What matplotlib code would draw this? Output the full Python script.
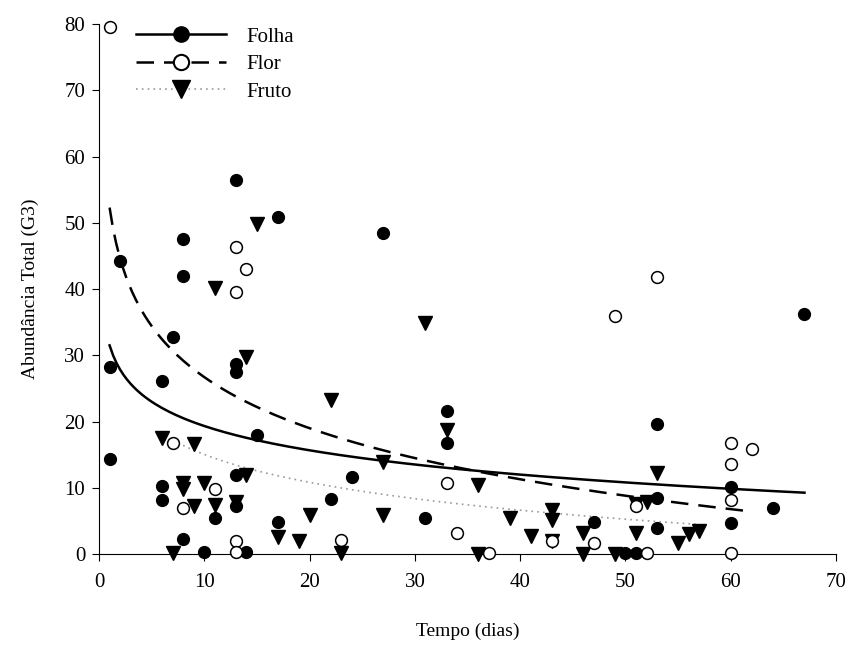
import numpy as np
import matplotlib.pyplot as plt
from matplotlib.lines import Line2D

plt.rcParams['font.family'] = ['Liberation Serif', 'DejaVu Serif']

# ---- data ----
folha_x = [1, 1, 2, 6, 6, 6, 7, 8, 8, 8, 10, 11, 13, 13, 13, 13, 13, 14, 15, 17, 17,
           22, 24, 27, 31, 33, 33, 47, 50, 51, 53, 53, 53, 60, 60, 64, 67]
folha_y = [28.3, 14.4, 44.2, 26.1, 10.2, 8.1, 32.7, 47.6, 42.0, 2.2, 0.3, 5.4, 56.4, 28.7,
           27.5, 11.9, 7.3, 0.3, 18.0, 50.9, 4.8, 8.3, 11.7, 48.5, 5.5, 21.6, 16.8, 4.9,
           0.2, 0.2, 19.7, 8.5, 4.0, 10.1, 4.7, 7.0, 36.2]

flor_x = [1, 7, 8, 11, 13, 13, 13, 13, 14, 23, 33, 34, 37, 43, 47, 49, 51, 52, 53,
          60, 60, 60, 60, 62]
flor_y = [79.5, 16.8, 6.9, 9.8, 46.3, 39.5, 2.0, 0.3, 43.0, 2.1, 10.7, 3.1, 0.2, 2.0,
          1.7, 35.9, 7.3, 0.2, 41.8, 16.8, 13.6, 8.2, 0.2, 15.8]

fruto_x = [6, 7, 8, 8, 9, 9, 10, 11, 11, 13, 14, 14, 15, 17, 19, 20, 22, 23, 27, 27,
           31, 33, 36, 36, 39, 41, 43, 43, 43, 46, 46, 49, 51, 51, 52, 53, 55, 56, 57]
fruto_y = [17.5, 0.1, 10.7, 9.8, 16.6, 7.2, 10.7, 40.1, 7.4, 7.8, 29.8, 11.9, 49.8, 2.5,
           1.9, 5.9, 23.3, 0.1, 13.9, 5.9, 34.9, 18.7, 10.4, 0.0, 5.4, 2.7, 6.6, 5.1, 1.9,
           3.1, 0.0, 0.0, 7.6, 3.1, 7.8, 12.3, 1.7, 3.0, 3.4]

# logarithmic trend lines y = a - b*ln(x), with x range
folha_fit = (31.5, 5.29, 1, 67)
flor_fit = (52.3, 11.12, 1, 62)
fruto_fit = (29.0, 6.07, 7, 57)

fig = plt.figure(figsize=(8.54, 6.51), dpi=100)
ax = fig.add_axes([0.116, 0.149, 0.863, 0.814])

ms = 8.5
ax.plot(fruto_x, fruto_y, 'v', color='black', markersize=ms + 1, clip_on=False, zorder=3)
ax.plot(folha_x, folha_y, 'o', color='black', markersize=ms, clip_on=False, zorder=3)
ax.plot(flor_x, flor_y, 'o', markerfacecolor='white', markeredgecolor='black',
        markeredgewidth=1.1, markersize=ms, clip_on=False, zorder=4)


def trend(fit):
    a, b, x0, x1 = fit
    xx = np.linspace(x0, x1, 200)
    return xx, a - b * np.log(xx)


xx, yy = trend(folha_fit)
ax.plot(xx, yy, '-', color='black', lw=1.8, zorder=2)
xx, yy = trend(flor_fit)
ax.plot(xx, yy, color='black', lw=1.8, dashes=(7, 4), zorder=2)
xx, yy = trend(fruto_fit)
ax.plot(xx, yy, color='#999999', lw=1.2, linestyle=(0, (1, 2.5)), zorder=2)

ax.set_xlim(0, 70)
ax.set_ylim(0, 80)
ax.set_xticks(range(0, 71, 10))
ax.set_yticks(range(0, 81, 10))
ax.spines['top'].set_visible(False)
ax.spines['right'].set_visible(False)
ax.tick_params(labelsize=15, direction='out', length=5)
ax.tick_params(axis='x', pad=9)
ax.tick_params(axis='y', pad=5)
ax.set_xlabel('Tempo (dias)', fontsize=14, labelpad=22)
ax.set_ylabel('Abundância Total (G3)', fontsize=14, labelpad=18)

handles = [
    Line2D([], [], color='black', lw=1.8, marker='o', markersize=11,
           markerfacecolor='black'),
    Line2D([], [], color='black', lw=1.8, dashes=(7, 4), marker='o', markersize=11,
           markerfacecolor='white', markeredgewidth=1.5),
    Line2D([], [], color='#999999', lw=1.2, linestyle=(0, (1, 2.5)), marker='v',
           markersize=13, markerfacecolor='black', markeredgecolor='black'),
]
ax.legend(handles, ['Folha', 'Flor', 'Fruto'], loc='upper left',
          bbox_to_anchor=(0.025, 1.03), frameon=False, fontsize=15,
          handlelength=4.3, labelspacing=0.38, handletextpad=1.0)

fig.savefig('out.png', dpi=100)
